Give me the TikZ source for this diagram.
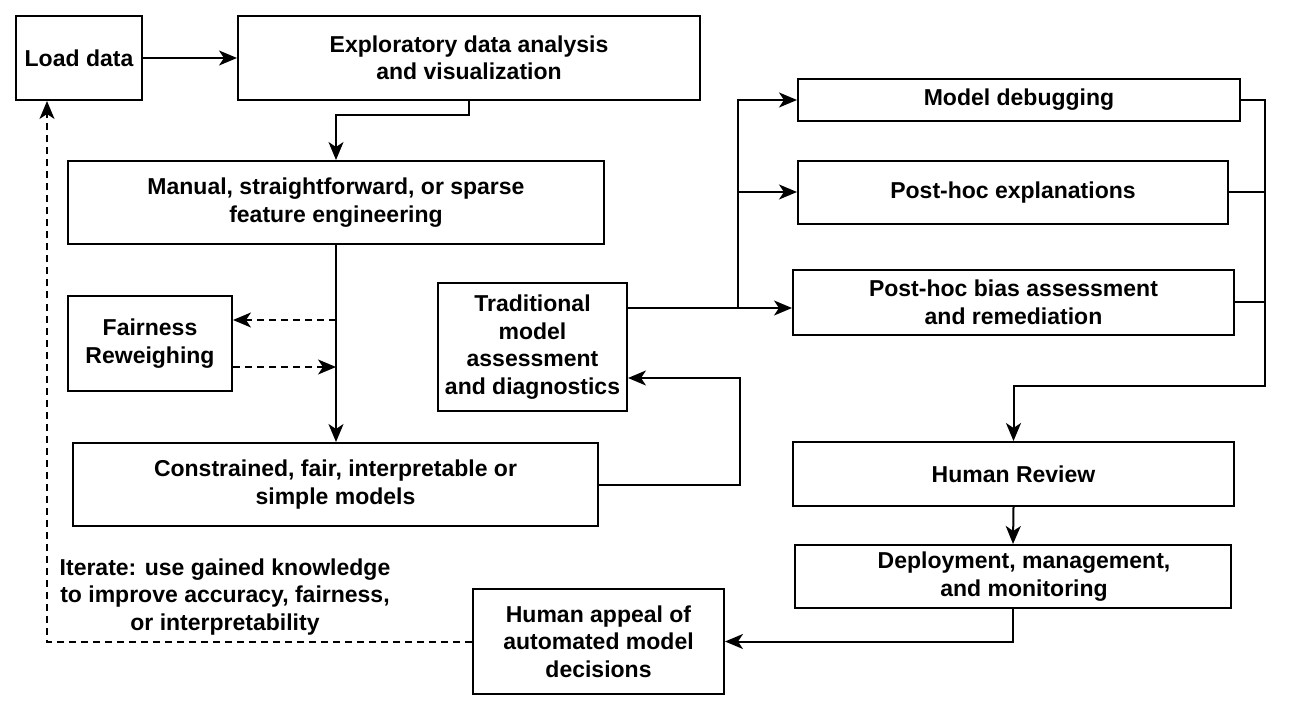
\documentclass[tikz,border=0pt]{standalone}
\usepackage{fontspec}
\setmainfont{Liberation Sans}
\usetikzlibrary{arrows.meta}
\begin{document}
\begin{tikzpicture}[x=1pt,y=-1pt,
  box/.style={draw, line width=2pt, inner sep=0pt, align=center, font=\fontsize{23}{27.5}\selectfont\bfseries},
  lbl/.style={inner sep=0pt, align=center, font=\fontsize{23}{27.5}\selectfont\bfseries},
  conn/.style={line width=2pt},
  arr/.style={conn, -{Stealth[length=18pt,width=15pt,inset=5pt]}},
  dasharr/.style={arr, dash pattern=on 7pt off 5pt}]
\useasboundingbox (0,0) rectangle (1289,708);
\node[box, minimum width=126, minimum height=84] (load) at (79,58) {Load data};
\node[box, minimum width=462, minimum height=84] (eda) at (469,58) {Exploratory data analysis\\and visualization};
\node[box, minimum width=536, minimum height=83] (fe) at (336,202.5) {Manual, straightforward, or sparse\\feature engineering};
\node[box, minimum width=164, minimum height=95] (fair) at (150,343.5) {Fairness\\Reweighing};
\node[box, minimum width=525, minimum height=83] (cons) at (335.5,484.5) {Constrained, fair, interpretable or\\simple models};
\node[box, minimum width=189, minimum height=128] (trad) at (532.5,347) {Traditional\\model\\assessment\\and diagnostics};
\node[box, minimum width=442, minimum height=42] (dbg) at (1019,100) {Model debugging};
\node[box, minimum width=430, minimum height=63] (expl) at (1013,192.5) {Post-hoc explanations};
\node[box, minimum width=441, minimum height=65] (bias) at (1013.5,302.5) {Post-hoc bias assessment\\and remediation};
\node[box, minimum width=441, minimum height=64] (hr) at (1013.5,474) {Human Review};
\node[box, minimum width=436, minimum height=63] (dep) at (1013,576.5) {\hspace*{22pt}Deployment, management,\\\hspace*{22pt}and monitoring};
\node[box, minimum width=251, minimum height=105] (appeal) at (598.5,641.5) {Human appeal of\\automated model\\decisions};
\node[lbl] (iter) at (225,597) {Iterate: use gained knowledge\\to improve accuracy, fairness,\\or interpretability};
% connectors
\draw[arr] (load.east) -- (eda.west);
\draw[arr] (eda.south) -- ++(0,14) -| (fe.north);
\draw[arr] (fe.south) -- (fe.south |- cons.north);
\coordinate (d1) at (336,320);
\coordinate (d2) at (336,367);
\draw[dasharr] (d1) -- (fair.east |- d1);
\draw[dasharr] (fair.east |- d2) -- (d2);
\coordinate (c2) at (740,378);
\draw[arr] (cons.east) -| (c2) -- (trad.east |- c2);
\coordinate (t1) at (627,308);
\coordinate (b1) at (738,308);
\coordinate (b2) at (738,192);
\draw[arr] (t1) -- (bias.west |- t1);
\draw[arr] (b1) |- (dbg.west);
\draw[arr] (b2) -- (expl.west |- b2);
\coordinate (c1) at (1265,386);
\draw[arr] (dbg.east) -| (c1) -| (hr.north);
\draw[conn] (expl.east) -- (expl.east -| c1);
\draw[conn] (bias.east) -- (bias.east -| c1);
\draw[arr] (hr.south) -- (dep.north);
\draw[arr] (dep.south) |- (appeal.east);
\draw[dasharr] (appeal.west) -| ([xshift=-32pt]load.south);
\end{tikzpicture}
\end{document}
